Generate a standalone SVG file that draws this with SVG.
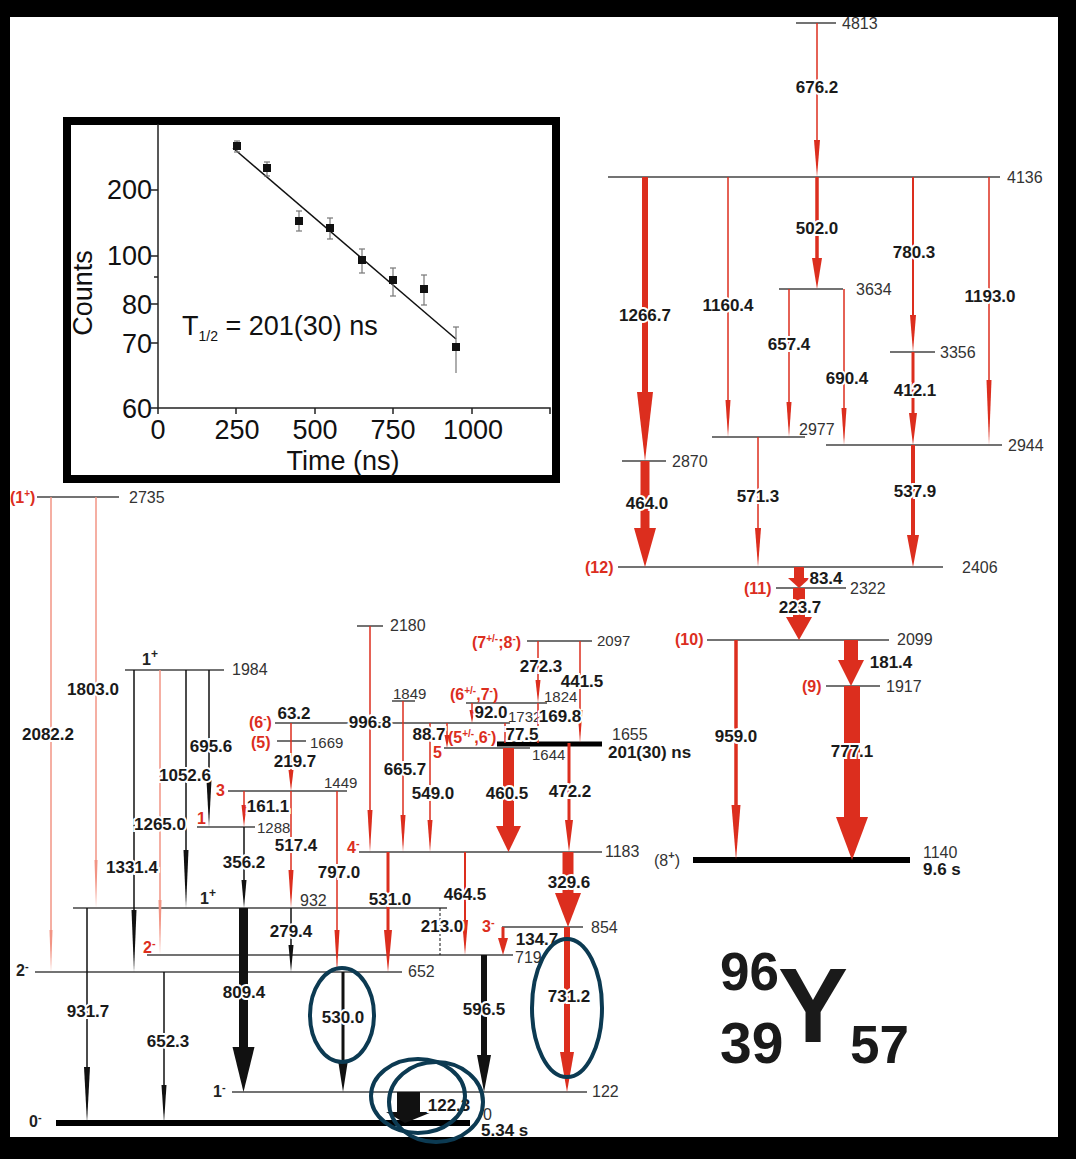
<svg xmlns="http://www.w3.org/2000/svg" width="1076" height="1159" viewBox="0 0 1076 1159">
<style>
.lv{stroke:#444;stroke-width:1.5;fill:none}
.lvk{stroke:#000;stroke-width:6}
.el{font-family:'Liberation Sans',Arial,sans-serif;font-size:16px;fill:#333}
.els{font-family:'Liberation Sans',Arial,sans-serif;font-size:15px;fill:#333}
.sp{font-family:'Liberation Sans',Arial,sans-serif;font-weight:bold;font-size:16px;fill:#dc2e1e}
.spk{font-family:'Liberation Sans',Arial,sans-serif;font-weight:bold;font-size:16px;fill:#222}
.tl{font-family:'Liberation Sans',Arial,sans-serif;font-weight:bold;font-size:17px;fill:#1a1a1a;text-anchor:middle;stroke:#fff;stroke-width:4;paint-order:stroke}
.big{font-family:'Liberation Sans',Arial,sans-serif;font-weight:bold;fill:#1a1a1a}
.r{stroke:#dc2e1e;fill:none}
.rh{fill:#dc2e1e}
.s{stroke:#f29484;fill:none;stroke-width:1.5}
.sh{fill:#f29484}
.k{stroke:#111;fill:none}
.kh{fill:#111}
.ell{fill:none;stroke:#0c3a52;stroke-width:4}
.ax{stroke:#222;stroke-width:1.5;fill:none}
.pt{font-family:'Liberation Sans',Arial,sans-serif;font-size:27px;fill:#111}
.eb{stroke:#777;stroke-width:1.2}
</style>
<rect x="0" y="0" width="1076" height="1159" fill="#000"/>
<rect x="10" y="17" width="1048" height="1120" fill="#fff"/>

<!-- Levels -->
<g id="lvl-4813"><line class="lv" x1="796" y1="23" x2="836" y2="23"/><text class="el" x="842" y="29">4813</text></g>
<g id="lvl-4136"><line class="lv" x1="608" y1="177" x2="1000" y2="177"/><text class="el" x="1007" y="183">4136</text></g>
<g id="lvl-3634"><line class="lv" x1="779" y1="289" x2="843" y2="289"/><text class="el" x="856" y="295">3634</text></g>
<g id="lvl-3356"><line class="lv" x1="890" y1="352" x2="935" y2="352"/><text class="el" x="940" y="358">3356</text></g>
<g id="lvl-2977"><line class="lv" x1="712" y1="437" x2="805" y2="437"/><text class="el" x="799" y="435">2977</text></g>
<g id="lvl-2944"><line class="lv" x1="826" y1="445" x2="1002" y2="445"/><text class="el" x="1008" y="451">2944</text></g>
<g id="lvl-2870"><line class="lv" x1="622" y1="461" x2="666" y2="461"/><text class="el" x="672" y="467">2870</text></g>
<g id="lvl-2406"><line class="lv" x1="618" y1="567" x2="943" y2="567"/><text class="el" x="962" y="573">2406</text><text class="sp" x="585" y="573">(12)</text></g>
<g id="lvl-2322"><line class="lv" x1="776" y1="588" x2="846" y2="588"/><text class="el" x="850" y="594">2322</text><text class="sp" x="744" y="594">(11)</text></g>
<g id="lvl-2099"><line class="lv" x1="707" y1="640" x2="889" y2="640"/><text class="el" x="897" y="645">2099</text><text class="sp" x="675" y="645">(10)</text></g>
<g id="lvl-1917"><line class="lv" x1="826" y1="686" x2="880" y2="686"/><text class="el" x="886" y="692">1917</text><text class="sp" x="802" y="692">(9)</text></g>
<g id="lvl-1140"><line class="lvk" x1="693" y1="860" x2="910" y2="860"/><text class="el" x="923" y="858">1140</text><text class="big" x="923" y="875" font-size="17">9.6 s</text><text class="el" x="654" y="866" fill="#222" font-size="17">(8<tspan dy="-7" font-size="11" font-weight="bold">+</tspan><tspan dy="7">)</tspan></text></g>

<g id="lvl-2735"><line class="lv" x1="37" y1="497" x2="119" y2="497"/><text class="el" x="129" y="503">2735</text><text class="sp" x="10" y="503">(1<tspan dy="-6" font-size="10">+</tspan><tspan dy="6">)</tspan></text></g>
<g id="lvl-1984"><line class="lv" x1="125" y1="670" x2="224" y2="670"/><text class="el" x="232" y="675">1984</text><text class="spk" x="142" y="665">1<tspan dy="-7" font-size="12">+</tspan></text></g>
<g id="lvl-2180"><line class="lv" x1="357" y1="626" x2="383" y2="626"/><text class="el" x="390" y="631">2180</text></g>
<g id="lvl-2097"><line class="lv" x1="527" y1="641" x2="592" y2="641"/><text class="els" x="597" y="646">2097</text><text class="sp" x="472" y="648" font-size="15">(7<tspan dy="-6" font-size="10">+/-</tspan><tspan dy="6">;8</tspan><tspan dy="-6" font-size="10">-</tspan><tspan dy="6">)</tspan></text></g>
<g id="lvl-1849"><line class="lv" x1="392" y1="701" x2="415" y2="701"/><text class="els" x="393" y="699">1849</text></g>
<g id="lvl-1824"><line class="lv" x1="466" y1="703" x2="547" y2="703"/><text class="els" x="544" y="702">1824</text><text class="sp" x="450" y="700" font-size="15">(6<tspan dy="-6" font-size="10">+/-</tspan><tspan dy="6">,7</tspan><tspan dy="-6" font-size="10">-</tspan><tspan dy="6">)</tspan></text></g>
<g id="lvl-1732"><line class="lv" x1="275" y1="723" x2="510" y2="723"/><text class="els" x="508" y="722">1732</text><text class="sp" x="249" y="728">(6<tspan dy="-6" font-size="10">-</tspan><tspan dy="6">)</tspan></text></g>
<g id="lvl-1669"><line class="lv" x1="277" y1="741" x2="306" y2="741"/><text class="els" x="310" y="748">1669</text><text class="sp" x="251" y="748">(5)</text></g>
<g id="lvl-1655"><line stroke="#000" stroke-width="5" x1="497" y1="744" x2="602" y2="744"/><text class="el" x="612" y="740">1655</text><text class="big" x="608" y="758" font-size="17">201(30) ns</text><text class="sp" x="448" y="743" font-size="15">(5<tspan dy="-6" font-size="10">+/-</tspan><tspan dy="6">,6</tspan><tspan dy="-6" font-size="10">-</tspan><tspan dy="6">)</tspan></text></g>
<g id="lvl-1644"><line class="lv" x1="444" y1="748" x2="530" y2="748"/><text class="els" x="532" y="760">1644</text><text class="sp" x="433" y="758">5</text></g>
<g id="lvl-1449"><line class="lv" x1="228" y1="791" x2="347" y2="791"/><text class="els" x="324" y="788">1449</text><text class="sp" x="216" y="796">3</text></g>
<g id="lvl-1288"><line class="lv" x1="197" y1="827" x2="255" y2="827"/><text class="els" x="257" y="833">1288</text><text class="sp" x="197" y="824">1</text></g>
<g id="lvl-1183"><line class="lv" x1="359" y1="852" x2="602" y2="852"/><text class="el" x="605" y="857">1183</text><text class="sp" x="347" y="853">4<tspan dy="-6" font-size="11">-</tspan></text></g>
<g id="lvl-932"><line class="lv" x1="73" y1="908" x2="447" y2="908"/><text class="el" x="300" y="906">932</text><text class="spk" x="200" y="904">1<tspan dy="-7" font-size="12">+</tspan></text></g>
<g id="lvl-854"><line class="lv" x1="502" y1="927" x2="583" y2="927"/><text class="el" x="591" y="933">854</text><text class="sp" x="482" y="932">3<tspan dy="-6" font-size="11">-</tspan></text></g>
<g id="lvl-719"><line class="lv" x1="147" y1="955" x2="513" y2="955"/><text class="el" x="515" y="963">719</text><text class="sp" x="143" y="953">2<tspan dy="-6" font-size="11">-</tspan></text></g>
<g id="lvl-652"><line class="lv" x1="35" y1="972" x2="402" y2="972"/><text class="el" x="408" y="977">652</text><text class="spk" x="16" y="976">2<tspan dy="-6" font-size="11">-</tspan></text></g>
<g id="lvl-122"><line class="lv" x1="232" y1="1092" x2="587" y2="1092"/><text class="el" x="592" y="1097">122</text><text class="spk" x="213" y="1097">1<tspan dy="-6" font-size="11">-</tspan></text></g>
<g id="lvl-0"><line class="lvk" x1="56" y1="1123" x2="470" y2="1123"/><text class="el" x="483" y="1120">0</text><text class="big" x="481" y="1136" font-size="17">5.34 s</text><text class="spk" x="29" y="1127">0<tspan dy="-6" font-size="11">-</tspan></text></g>

<!-- Transitions -->
<g id="connectors">
<!-- right scheme -->
<line class="r" stroke-width="1.5" x1="817" y1="23" x2="817" y2="142"/><polygon class="rh" points="814,140 820,140 817,177"/>
<line class="r" stroke-width="6" x1="645" y1="177" x2="645" y2="394"/><polygon class="rh" points="637,392 653,392 645,461"/>
<line class="r" stroke-width="1.5" x1="728" y1="177" x2="728" y2="402"/><polygon class="rh" points="725.5,400 730.5,400 728,437"/>
<line class="r" stroke-width="3.5" x1="817" y1="177" x2="817" y2="260"/><polygon class="rh" points="812,258 822,258 817,289"/>
<line class="r" stroke-width="1.5" x1="789" y1="289" x2="789" y2="404"/><polygon class="rh" points="786.5,402 791.5,402 789,437"/>
<line class="r" stroke-width="1.5" x1="844" y1="289" x2="844" y2="410"/><polygon class="rh" points="841.5,408 846.5,408 844,445"/>
<line class="r" stroke-width="2" x1="913" y1="177" x2="913" y2="317"/><polygon class="rh" points="910,315 916,315 913,352"/>
<line class="r" stroke-width="3" x1="913" y1="352" x2="913" y2="415"/><polygon class="rh" points="909,413 917,413 913,445"/>
<line class="r" stroke-width="1.5" x1="989" y1="177" x2="989" y2="382"/><polygon class="rh" points="986.5,380 991.5,380 989,445"/>
<line class="r" stroke-width="9" x1="645" y1="461" x2="645" y2="530"/><polygon class="rh" points="634,528 656,528 645,567"/>
<line class="r" stroke-width="1.5" x1="758" y1="437" x2="758" y2="530"/><polygon class="rh" points="755,528 761,528 758,567"/>
<line class="r" stroke-width="4" x1="913" y1="445" x2="913" y2="537"/><polygon class="rh" points="907,535 919,535 913,567"/>
<line class="r" stroke-width="10" x1="799" y1="567" x2="799" y2="579"/><polygon class="rh" points="788,578 810,578 799,588"/>
<line class="r" stroke-width="12" x1="799" y1="588" x2="799" y2="618"/><polygon class="rh" points="786,617 812,617 799,640"/>
<line class="r" stroke-width="3.5" x1="736" y1="640" x2="736" y2="807"/><polygon class="rh" points="731.5,805 740.5,805 736,860"/>
<line class="r" stroke-width="14" x1="851" y1="640" x2="851" y2="661"/><polygon class="rh" points="838,660 864,660 851,686"/>
<line class="r" stroke-width="16" x1="852" y1="686" x2="852" y2="818"/><polygon class="rh" points="836,817 868,817 852,860"/>
<text class="tl" x="817" y="93">676.2</text>
<text class="tl" x="817" y="234">502.0</text>
<text class="tl" x="645" y="321">1266.7</text>
<text class="tl" x="728" y="311">1160.4</text>
<text class="tl" x="789" y="350">657.4</text>
<text class="tl" x="847" y="384">690.4</text>
<text class="tl" x="914" y="258">780.3</text>
<text class="tl" x="915" y="396">412.1</text>
<text class="tl" x="990" y="302">1193.0</text>
<text class="tl" x="647" y="509">464.0</text>
<text class="tl" x="758" y="502">571.3</text>
<text class="tl" x="915" y="497">537.9</text>
<text class="tl" x="826" y="584">83.4</text>
<text class="tl" x="800" y="613">223.7</text>
<text class="tl" x="736" y="742">959.0</text>
<text class="tl" x="891" y="668">181.4</text>
<text class="tl" x="852" y="757">777.1</text>

<!-- left scheme -->
<line class="s" x1="51" y1="497" x2="51" y2="932"/><polygon class="sh" points="49.5,930 52.5,930 51,972"/>
<line class="s" x1="96" y1="497" x2="96" y2="862"/><polygon class="sh" points="94.5,860 97.5,860 96,908"/>
<line class="k" stroke-width="1.5" x1="134" y1="670" x2="134" y2="912"/><polygon class="kh" points="131.5,910 136.5,910 134,972"/>
<line class="s" x1="160" y1="670" x2="160" y2="902"/><polygon class="sh" points="158.5,900 161.5,900 160,955"/>
<line class="k" stroke-width="1.5" x1="186" y1="670" x2="186" y2="852"/><polygon class="kh" points="183.5,850 188.5,850 186,908"/>
<line class="k" stroke-width="1.5" x1="209" y1="670" x2="209" y2="782"/><polygon class="kh" points="206.5,780 211.5,780 209,827"/>
<line class="k" stroke-width="1.5" x1="87" y1="908" x2="87" y2="1069"/><polygon class="kh" points="84,1067 90,1067 87,1123"/>
<line class="k" stroke-width="1.5" x1="164" y1="972" x2="164" y2="1087"/><polygon class="kh" points="161.5,1085 166.5,1085 164,1123"/>
<line class="k" stroke-width="9" x1="243.5" y1="908" x2="243.5" y2="1049"/><polygon class="kh" points="232.5,1047 254.5,1047 243.5,1092"/>
<line class="k" stroke-width="1.5" x1="244" y1="827" x2="244" y2="882"/><polygon class="kh" points="241.5,880 246.5,880 244,908"/>
<line class="r" stroke-width="1.5" x1="244" y1="791" x2="244" y2="807"/><polygon class="rh" points="241.5,805 246.5,805 244,827"/>
<line class="r" stroke-width="1.5" x1="291" y1="723" x2="291" y2="741"/>
<line class="r" stroke-width="1.5" x1="291" y1="741" x2="291" y2="772"/><polygon class="rh" points="288.5,770 293.5,770 291,791"/>
<line class="r" stroke-width="1.5" x1="291" y1="791" x2="291" y2="872"/><polygon class="rh" points="288.5,870 293.5,870 291,908"/>
<line class="k" stroke-width="1.5" x1="291" y1="908" x2="291" y2="947"/><polygon class="kh" points="288.5,945 293.5,945 291,972"/>
<line class="r" stroke-width="1.5" x1="337" y1="791" x2="337" y2="932"/><polygon class="rh" points="334.5,930 339.5,930 337,972"/>
<line class="k" stroke-width="3" x1="343" y1="972" x2="343" y2="1062"/><polygon class="kh" points="338,1060 348,1060 343,1092"/>
<line class="r" stroke-width="1.5" x1="370" y1="626" x2="370" y2="812"/><polygon class="rh" points="367.5,810 372.5,810 370,852"/>
<line class="r" stroke-width="1.5" x1="403" y1="701" x2="403" y2="817"/><polygon class="rh" points="400.5,815 405.5,815 403,852"/>
<line class="r" stroke-width="1.5" x1="430" y1="723" x2="430" y2="822"/><polygon class="rh" points="427.5,820 432.5,820 430,852"/>
<line class="r" stroke-width="1.5" x1="447" y1="723" x2="447" y2="737"/><polygon class="rh" points="444.5,735 449.5,735 447,748"/>
<line class="r" stroke-width="1.5" x1="472" y1="703" x2="472" y2="712"/><polygon class="rh" points="469.5,710 474.5,710 472,723"/>
<line class="r" stroke-width="1.5" x1="505" y1="723" x2="505" y2="743"/>
<line class="r" stroke-width="1.5" x1="538" y1="641" x2="538" y2="682"/><polygon class="rh" points="535.5,680 540.5,680 538,703"/>
<line class="r" stroke-width="1.5" x1="538" y1="703" x2="538" y2="743"/>
<line class="r" stroke-width="1.5" x1="580" y1="641" x2="580" y2="712"/><polygon class="rh" points="577.5,710 582.5,710 580,743"/>
<line class="r" stroke-width="11" x1="508.5" y1="748" x2="508.5" y2="828"/><polygon class="rh" points="496,826 521,826 508.5,852"/>
<line class="r" stroke-width="3" x1="569" y1="743" x2="569" y2="822"/><polygon class="rh" points="565,820 573,820 569,852"/>
<line class="r" stroke-width="3" x1="388" y1="852" x2="388" y2="932"/><polygon class="rh" points="384,930 392,930 388,972"/>
<line class="r" stroke-width="2" x1="465" y1="852" x2="465" y2="922"/><polygon class="rh" points="462,920 468,920 465,955"/>
<line class="r" stroke-width="11" x1="568" y1="852" x2="568" y2="895"/><polygon class="rh" points="555,893 581,893 568,927"/>
<line class="r" stroke-width="3" x1="503" y1="927" x2="503" y2="940"/><polygon class="rh" points="498,938 508,938 503,955"/>
<line class="r" stroke-width="6" x1="567" y1="927" x2="567" y2="1054"/><polygon class="rh" points="560,1052 574,1052 567,1092"/>
<line class="k" stroke-width="6" x1="484" y1="955" x2="484" y2="1057"/><polygon class="kh" points="477,1055 491,1055 484,1092"/>
<rect x="397" y="1092" width="23" height="21" fill="#111"/><polygon class="kh" points="386,1112 432,1112 405,1123"/>
<line class="k" stroke-width="1" stroke-dasharray="3,2" x1="440" y1="908" x2="440" y2="955"/>

<text class="tl" x="48" y="740">2082.2</text>
<text class="tl" x="93" y="695">1803.0</text>
<text class="tl" x="211" y="752" font-size="15">695.6</text>
<text class="tl" x="185" y="781" font-size="15">1052.6</text>
<text class="tl" x="160" y="830" font-size="15">1265.0</text>
<text class="tl" x="132" y="873" font-size="15">1331.4</text>
<text class="tl" x="244" y="868">356.2</text>
<text class="tl" x="268" y="812">161.1</text>
<text class="tl" x="294" y="719">63.2</text>
<text class="tl" x="295" y="767">219.7</text>
<text class="tl" x="296" y="851">517.4</text>
<text class="tl" x="339" y="878">797.0</text>
<text class="tl" x="291" y="937">279.4</text>
<text class="tl" x="88" y="1017">931.7</text>
<text class="tl" x="168" y="1047">652.3</text>
<text class="tl" x="244" y="998">809.4</text>
<text class="tl" x="343" y="1023">530.0</text>
<text class="tl" x="370" y="728" font-size="18">996.8</text>
<text class="tl" x="405" y="775">665.7</text>
<text class="tl" x="433" y="799">549.0</text>
<text class="tl" x="429" y="740">88.7</text>
<text class="tl" x="491" y="718">92.0</text>
<text class="tl" x="522" y="740" font-size="16">77.5</text>
<text class="tl" x="541" y="672">272.3</text>
<text class="tl" x="582" y="687">441.5</text>
<text class="tl" x="560" y="722" font-size="16">169.8</text>
<text class="tl" x="507" y="799">460.5</text>
<text class="tl" x="570" y="797">472.2</text>
<text class="tl" x="390" y="905">531.0</text>
<text class="tl" x="465" y="900">464.5</text>
<text class="tl" x="569" y="888">329.6</text>
<text class="tl" x="442" y="932" font-size="12" font-weight="normal">213.0</text>
<text class="tl" x="537" y="945">134.7</text>
<text class="tl" x="569" y="1002">731.2</text>
<text class="tl" x="484" y="1015">596.5</text>
<text class="tl" x="449" y="1111" text-anchor="middle">122.3</text>
</g>

<!-- highlight ellipses -->
<g id="highlights">
<ellipse class="ell" cx="342" cy="1015" rx="32" ry="47"/>
<ellipse class="ell" cx="567" cy="1008" rx="35" ry="69"/>
<ellipse class="ell" cx="418" cy="1096" rx="47" ry="37"/>
<ellipse class="ell" cx="436" cy="1102" rx="47" ry="40"/>
</g>

<!-- nuclide label -->
<g id="nuclide">
<text class="big" x="720" y="990" font-size="53">96</text>
<text class="big" x="778" y="1042" font-size="105">Y</text>
<text class="big" x="720" y="1063" font-size="57">39</text>
<text class="big" x="850" y="1063" font-size="53">57</text>
</g>

<!-- inset decay curve -->
<g id="inset">
<rect x="67" y="121" width="489" height="358" fill="#fff" stroke="#000" stroke-width="8"/>
<polyline class="ax" points="158,124 158,408 550,408 550,414"/>
<line class="ax" x1="151" y1="190" x2="158" y2="190"/>
<line class="ax" x1="151" y1="256" x2="158" y2="256"/>
<line class="ax" x1="154" y1="277" x2="158" y2="277"/>
<line class="ax" x1="151" y1="304" x2="158" y2="304"/>
<line class="ax" x1="151" y1="343" x2="158" y2="343"/>
<line class="ax" x1="151" y1="408" x2="158" y2="408"/>
<line class="ax" x1="158" y1="408" x2="158" y2="414"/>
<line class="ax" x1="236" y1="408" x2="236" y2="414"/>
<line class="ax" x1="315" y1="408" x2="315" y2="414"/>
<line class="ax" x1="393" y1="408" x2="393" y2="414"/>
<line class="ax" x1="472" y1="408" x2="472" y2="414"/>
<text class="pt" x="152" y="199" text-anchor="end">200</text>
<text class="pt" x="152" y="265" text-anchor="end">100</text>
<text class="pt" x="152" y="314" text-anchor="end">80</text>
<text class="pt" x="152" y="353" text-anchor="end">70</text>
<text class="pt" x="152" y="418" text-anchor="end">60</text>
<text class="pt" x="158" y="439" text-anchor="middle">0</text>
<text class="pt" x="237" y="439" text-anchor="middle">250</text>
<text class="pt" x="315" y="439" text-anchor="middle">500</text>
<text class="pt" x="393" y="439" text-anchor="middle">750</text>
<text class="pt" x="473" y="439" text-anchor="middle">1000</text>
<text class="pt" x="343" y="470" text-anchor="middle">Time (ns)</text>
<text class="pt" font-size="28" transform="translate(92,293) rotate(-90)" text-anchor="middle">Counts</text>
<text class="pt" x="182" y="335">T<tspan font-size="14" dy="6">1/2</tspan><tspan dy="-6"> = 201(30) ns</tspan></text>
<line x1="233" y1="148" x2="456" y2="339" stroke="#111" stroke-width="1.5"/>
<g class="eb">
<line x1="237" y1="141" x2="237" y2="152"/><line x1="234" y1="141" x2="240" y2="141"/><line x1="234" y1="152" x2="240" y2="152"/>
<line x1="267" y1="162" x2="267" y2="176"/><line x1="264" y1="162" x2="270" y2="162"/><line x1="264" y1="176" x2="270" y2="176"/>
<line x1="299" y1="211" x2="299" y2="231"/><line x1="296" y1="211" x2="302" y2="211"/><line x1="296" y1="231" x2="302" y2="231"/>
<line x1="330" y1="218" x2="330" y2="239"/><line x1="327" y1="218" x2="333" y2="218"/><line x1="327" y1="239" x2="333" y2="239"/>
<line x1="362" y1="249" x2="362" y2="273"/><line x1="359" y1="249" x2="365" y2="249"/><line x1="359" y1="273" x2="365" y2="273"/>
<line x1="393" y1="268" x2="393" y2="296"/><line x1="390" y1="268" x2="396" y2="268"/><line x1="390" y1="296" x2="396" y2="296"/>
<line x1="424" y1="275" x2="424" y2="305"/><line x1="421" y1="275" x2="427" y2="275"/><line x1="421" y1="305" x2="427" y2="305"/>
<line x1="456" y1="327" x2="456" y2="373"/><line x1="453" y1="327" x2="459" y2="327"/>
</g>
<g fill="#111">
<rect x="233" y="142" width="8" height="8"/>
<rect x="263" y="164" width="8" height="8"/>
<rect x="295" y="217" width="8" height="8"/>
<rect x="326" y="224" width="8" height="8"/>
<rect x="358" y="256" width="8" height="8"/>
<rect x="389" y="276" width="8" height="8"/>
<rect x="420" y="285" width="8" height="8"/>
<rect x="452" y="343" width="8" height="8"/>
</g>
</g>
</svg>
